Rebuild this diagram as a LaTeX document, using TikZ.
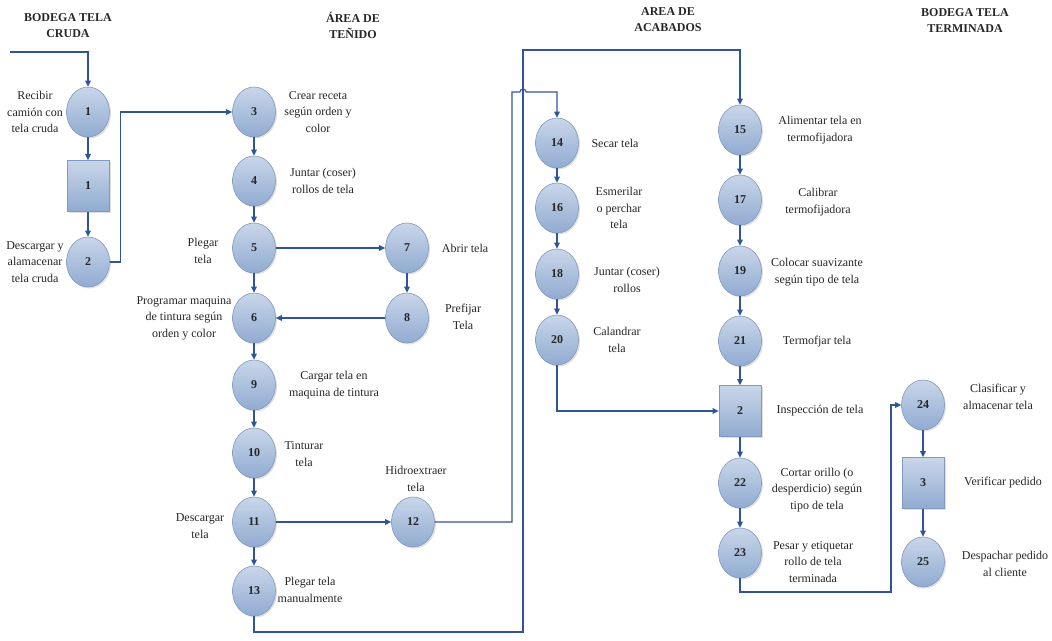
\documentclass[tikz,border=0pt]{standalone}
\usepackage{fontspec}
\setmainfont{Liberation Serif}
\usetikzlibrary{shapes.geometric,shadows,arrows.meta}
\definecolor{lineblue}{HTML}{2F5597}
\definecolor{fillTop}{HTML}{C9D6E9}
\definecolor{fillBot}{HTML}{90ABD1}
\definecolor{edgeblue}{HTML}{8099C0}
\definecolor{txt}{HTML}{262626}
\tikzset{
  proc/.style={ellipse, draw=edgeblue, line width=0.6pt, top color=fillTop, bottom color=fillBot,
    minimum width=43pt, minimum height=50pt, inner sep=0pt,
    font=\fontsize{12}{14}\selectfont\bfseries, text=txt,
    drop shadow={shadow xshift=1.5pt, shadow yshift=-1.5pt, opacity=0.25}},
  insp/.style={rectangle, draw=edgeblue, line width=0.6pt, top color=fillTop, bottom color=fillBot,
    minimum width=42pt, minimum height=51pt, inner sep=0pt,
    font=\fontsize{12}{14}\selectfont\bfseries, text=txt,
    drop shadow={shadow xshift=1.5pt, shadow yshift=-1.5pt, opacity=0.25}},
  lbl/.style={align=center, inner sep=0pt, text=txt, font=\fontsize{12}{16.5}\selectfont},
  hdr/.style={align=center, inner sep=0pt, text=txt, font=\fontsize{12}{16}\selectfont\bfseries},
  arr/.style={draw=lineblue, line width=1.1pt, -{Triangle[length=6pt,width=5.5pt]}},
}
\begin{document}
\begin{tikzpicture}[x=1pt,y=-1pt]
\useasboundingbox (0,0) rectangle (1052,640);
% headers
\node[hdr] (h1) at (68,26) {BODEGA TELA\\CRUDA};
\node[hdr] (h2) at (353,25) {ÁREA DE\\TEÑIDO};
\node[hdr] (h3) at (668,20) {AREA DE\\ACABADOS};
\node[hdr] (h4) at (965,21) {BODEGA TELA\\TERMINADA};
% nodes
\node[proc] (n1) at (88,112) {1};
\node[insp] (b1) at (88,186) {1};
\node[proc] (n2) at (88,262) {2};
\node[proc] (n3) at (254,112) {3};
\node[proc] (n4) at (254,181) {4};
\node[proc] (n5) at (254,248) {5};
\node[proc] (n6) at (254,318) {6};
\node[proc] (n7) at (407,248) {7};
\node[proc] (n8) at (407,318) {8};
\node[proc] (n9) at (254,385) {9};
\node[proc] (n10) at (254,453) {10};
\node[proc] (n11) at (254,522) {11};
\node[proc] (n12) at (413,522) {12};
\node[proc] (n13) at (254,591) {13};
\node[proc] (n14) at (557,143) {14};
\node[proc] (n16) at (557,208) {16};
\node[proc] (n18) at (557,274) {18};
\node[proc] (n20) at (557,340) {20};
\node[proc] (n15) at (740,130) {15};
\node[proc] (n17) at (740,200) {17};
\node[proc] (n19) at (740,271) {19};
\node[proc] (n21) at (740,341) {21};
\node[insp] (b2) at (740,411) {2};
\node[proc] (n22) at (740,483) {22};
\node[proc] (n23) at (740,553) {23};
\node[proc] (n24) at (923,405) {24};
\node[insp] (b3) at (923,483) {3};
\node[proc] (n25) at (923,562) {25};
% labels
\node[lbl] (l1) at (35,112) {Recibir\\camión con\\tela cruda};
\node[lbl] (l2) at (35,262) {Descargar y\\alamacenar\\tela cruda};
\node[lbl] (l3) at (318,112) {Crear receta\\según orden y\\color};
\node[lbl] (l4) at (323,181) {Juntar (coser)\\rollos de tela};
\node[lbl] (l5) at (203,251) {Plegar\\tela};
\node[lbl] (l6) at (184,318) {Programar maquina\\de tintura según\\orden y color};
\node[lbl] (l7) at (465,248) {Abrir tela};
\node[lbl] (l8) at (463,317) {Prefijar\\Tela};
\node[lbl] (l9) at (334,385) {Cargar tela en\\maquina de tintura};
\node[lbl] (l10) at (304,454) {Tinturar\\tela};
\node[lbl] (l12) at (416,479) {Hidroextraer\\tela};
\node[lbl] (l11) at (200,526) {Descargar\\tela};
\node[lbl] (l13) at (310,590) {Plegar tela\\manualmente};
\node[lbl] (l14) at (615,143) {Secar tela};
\node[lbl] (l16) at (619,208) {Esmerilar\\o perchar\\tela};
\node[lbl] (l18) at (627,280) {Juntar (coser)\\rollos};
\node[lbl] (l20) at (617,340) {Calandrar\\tela};
\node[lbl] (l15) at (820,130) {Alimentar tela en\\termofijadora};
\node[lbl] (l17) at (818,202) {Calibrar\\termofijadora};
\node[lbl] (l19) at (817,272) {Colocar suavizante\\según tipo de tela};
\node[lbl] (l21) at (817,342) {Termofjar tela};
\node[lbl] (lb2) at (820,411) {Inspección de tela};
\node[lbl] (l22) at (817,490) {Cortar orillo (o\\desperdicio) según\\tipo de tela};
\node[lbl] (l23) at (813,562) {Pesar y etiquetar\\rollo de tela\\terminada};
\node[lbl] (l24) at (998,397) {Clasificar y\\almacenar tela};
\node[lbl] (lb3) at (1003,483) {Verificar pedido};
\node[lbl] (l25) at (1005,564) {Despachar pedido\\al cliente};
% connectors
\coordinate (start) at (10,52);
\coordinate (c12) at (512,92);
\coordinate (c13) at (523,632);
\coordinate (c23) at (891,592);
\draw[arr] (start) -| (n1.north);
\draw[arr] (n1) -- (b1);
\draw[arr] (b1) -- (n2);
\draw[arr] (n2.east) -- ++(11,0) |- (n3.west);
\draw[arr] (n3) -- (n4);
\draw[arr] (n4) -- (n5);
\draw[arr] (n5) -- (n6);
\draw[arr] (n5) -- (n7);
\draw[arr] (n7) -- (n8);
\draw[arr] (n8) -- (n6);
\draw[arr] (n6) -- (n9);
\draw[arr] (n9) -- (n10);
\draw[arr] (n10) -- (n11);
\draw[arr] (n11) -- (n12);
\draw[arr] (n11) -- (n13);
\draw[arr] (n12.east) -| (c12) -- (520,92) arc[start angle=180,end angle=0,radius=3pt] -- (557,92) -- (n14.north);
\draw[arr] (n13.south) |- (c13) -- (523,50) -| (n15.north);
\draw[arr] (n14) -- (n16);
\draw[arr] (n16) -- (n18);
\draw[arr] (n18) -- (n20);
\draw[arr] (n20.south) |- (b2.west);
\draw[arr] (n15) -- (n17);
\draw[arr] (n17) -- (n19);
\draw[arr] (n19) -- (n21);
\draw[arr] (n21) -- (b2);
\draw[arr] (b2) -- (n22);
\draw[arr] (n22) -- (n23);
\draw[arr] (n23.south) |- (c23) |- (n24.west);
\draw[arr] (n24) -- (b3);
\draw[arr] (b3) -- (n25);
\end{tikzpicture}
\end{document}
